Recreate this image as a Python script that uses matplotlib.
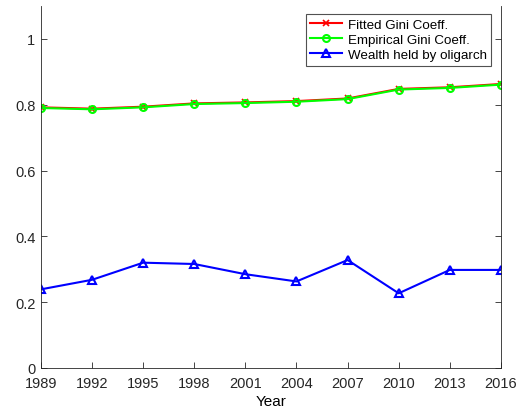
import matplotlib
matplotlib.use("Agg")
import matplotlib.pyplot as plt

# Données
years = [1989, 1992, 1995, 1998, 2001, 2004, 2007, 2010, 2013, 2016]
fitted_gini = [0.792, 0.788, 0.794, 0.804, 0.807, 0.811, 0.819, 0.848, 0.853, 0.863]
empirical_gini = [0.790, 0.786, 0.792, 0.802, 0.805, 0.809, 0.817, 0.846, 0.851, 0.861]
oligarch_wealth = [0.239, 0.268, 0.320, 0.316, 0.285, 0.263, 0.328, 0.227, 0.298, 0.298]

plt.rcParams['font.family'] = ['Liberation Sans', 'DejaVu Sans']

fig = plt.figure(figsize=(5.18, 4.10), dpi=100)
ax = fig.add_axes([0.079, 0.1, 0.888, 0.883])

ax.plot(years, fitted_gini, color='red', marker='x', markersize=5, linewidth=1.5,
        markeredgewidth=1.2, label='Fitted Gini Coeff.')
ax.plot(years, empirical_gini, color='#00ff00', marker='o', markersize=5, linewidth=1.5,
        markerfacecolor='none', markeredgewidth=1.5, label='Empirical Gini Coeff.')
ax.plot(years, oligarch_wealth, color='blue', marker='^', markersize=6, linewidth=1.5,
        markerfacecolor='none', markeredgewidth=1.5, label='Wealth held by oligarch')

ax.set_xlim(1989, 2016)
ax.set_ylim(0, 1.1)
ax.set_xticks(years)
ax.set_yticks([0, 0.2, 0.4, 0.6, 0.8, 1])
ax.set_yticklabels(['0', '0.2', '0.4', '0.6', '0.8', '1'])
ax.set_xlabel('Year', fontsize=11, labelpad=3)

axis_color = '#262626'
ax.tick_params(direction='in', length=4, width=0.6, top=False, right=True,
               labelsize=10.5, colors=axis_color)
ax.tick_params(axis='x', pad=6)
ax.tick_params(axis='y', pad=4)
for side in ['left', 'bottom', 'right', 'top']:
    ax.spines[side].set_color(axis_color)
    ax.spines[side].set_linewidth(0.6)
ax.spines['top'].set_visible(False)

leg = ax.legend(loc='upper right', bbox_to_anchor=(0.985, 0.985), fontsize=9.6,
                frameon=True, fancybox=False, edgecolor='#262626', borderpad=0.35,
                handlelength=2.4, handletextpad=0.4, labelspacing=0.2,
                borderaxespad=0.2)
leg.get_frame().set_linewidth(0.8)

fig.savefig('out.png', dpi=100)
